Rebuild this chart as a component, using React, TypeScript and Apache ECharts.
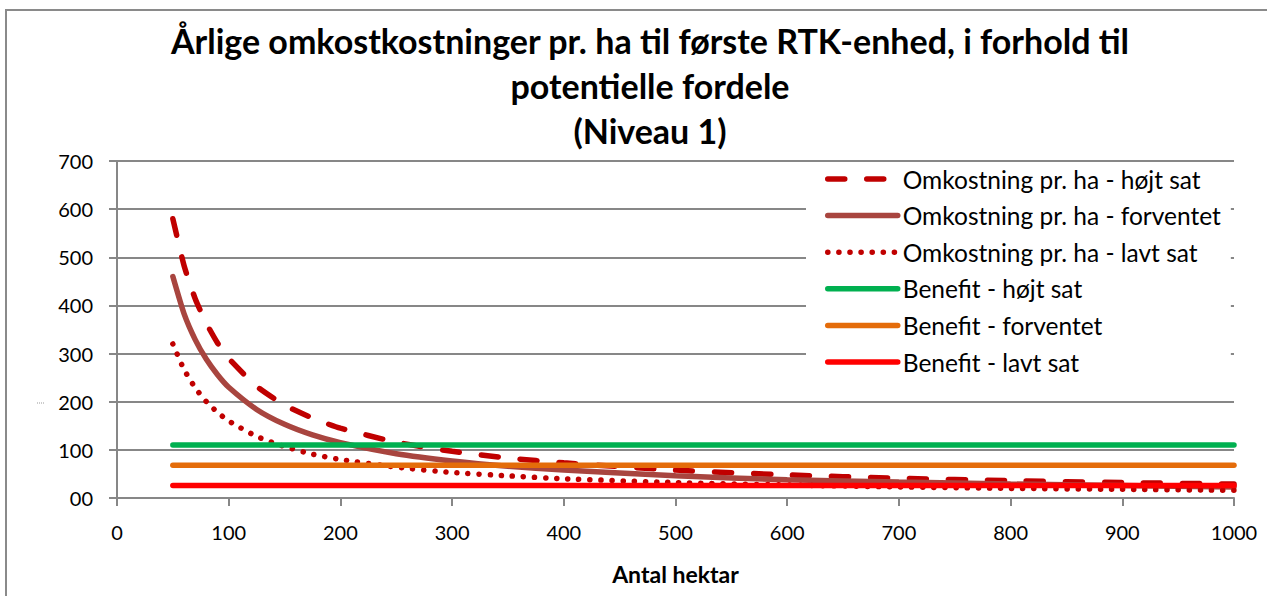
import React, { useEffect, useRef } from "react";
import * as echarts from "echarts";

const titleText = "Årlige omkostkostninger pr. ha til første RTK-enhed, i forhold til\npotentielle fordele\n(Niveau 1)";
const xAxisName = "Antal hektar";

const seriesNames = [
  "Omkostning pr. ha - højt sat",
  "Omkostning pr. ha - forventet",
  "Omkostning pr. ha - lavt sat",
  "Benefit - højt sat",
  "Benefit - forventet",
  "Benefit - lavt sat",
];

const hektar = [50, 60, 70, 80, 90, 100, 125, 150, 175, 200, 250, 300, 350, 400, 500, 600, 700, 800, 900, 1000];
const omkHoej = [580, 483, 414, 363, 322, 290, 232, 193, 166, 145, 116, 97, 83, 73, 58, 48, 41, 36, 32, 29];
const omkForventet = [460, 383, 329, 288, 256, 230, 184, 153, 131, 115, 92, 77, 66, 58, 46, 38, 33, 29, 26, 23];
const omkLav = [320, 267, 229, 200, 178, 160, 128, 107, 91, 80, 64, 53, 46, 40, 32, 27, 23, 20, 18, 16];

const benefitHektar = [50, 1000];
const benefitHoej = [110, 110];
const benefitForventet = [68, 68];
const benefitLav = [26, 26];

const yTicks = ["00", "100", "200", "300", "400", "500", "600", "700"];

const FONT = "Lato, 'Open Sans', sans-serif";

const pairs = (xs: number[], ys: number[]) => xs.map((x, i) => [x, ys[i]]);

export default function App() {
  const ref = useRef<HTMLDivElement>(null);
  useEffect(() => {
    document.body.style.margin = "0";
    const chart = echarts.init(ref.current!, null, { renderer: "svg" });
    const gray = "#878787";
    const lineBase = { type: "line", showSymbol: false, symbol: "none" };
    chart.setOption({
      animation: false,
      backgroundColor: "#ffffff",
      title: {
        text: titleText,
        left: 645,
        top: 13,
        textAlign: "center",
        textStyle: {
          fontFamily: FONT,
          fontWeight: "bold",
          fontSize: 34,
          lineHeight: 45,
          color: "#000",
        },
      },
      graphic: [
        {
          type: "rect",
          shape: { x: 6, y: 10, width: 1400, height: 800 },
          style: { fill: "none", stroke: "#8a8a8a", lineWidth: 2 },
          z: 100,
        },
        {
          type: "line",
          shape: { x1: 37, y1: 403, x2: 45, y2: 403 },
          style: { stroke: "#999", lineWidth: 1, lineDash: [1, 1] },
        },
      ],
      legend: {
        orient: "vertical",
        left: 806,
        top: 163,
        padding: [3, 10, 10, 19],
        backgroundColor: "#ffffff",
        itemWidth: 70,
        itemHeight: 14,
        itemGap: 10.6,
        lineStyle: { width: 5.5 },
        itemStyle: { opacity: 0 },
        textStyle: { fontFamily: FONT, fontSize: 24.5, lineHeight: 26, color: "#000" },
        data: seriesNames,
      },
      grid: { left: 117, right: 33, top: 161, bottom: 98 },
      xAxis: {
        type: "value",
        min: 0,
        max: 1000,
        interval: 100,
        name: xAxisName,
        nameLocation: "middle",
        nameGap: 64,
        nameTextStyle: { fontFamily: FONT, fontWeight: "bold", fontSize: 23, color: "#000" },
        axisLine: { show: true, onZero: false, lineStyle: { color: gray, width: 2 } },
        axisTick: { show: true, inside: false, length: 8, lineStyle: { color: gray, width: 2 } },
        axisLabel: {
          margin: 24,
          fontFamily: FONT,
          fontSize: 20,
          color: "#000",
          formatter: (v: number) => String(v),
        },
        splitLine: { show: false },
      },
      yAxis: {
        type: "value",
        min: 0,
        max: 700,
        interval: 100,
        axisLine: { show: true, lineStyle: { color: gray, width: 2 } },
        axisTick: { show: true, inside: false, length: 8, lineStyle: { color: gray, width: 2 } },
        axisLabel: {
          margin: 24,
          fontFamily: FONT,
          fontSize: 20,
          color: "#000",
          formatter: (v: number) => yTicks[Math.round(v / 100)],
        },
        splitLine: { show: true, lineStyle: { color: gray, width: 2 } },
      },
      series: [
        {
          ...lineBase,
          name: seriesNames[0],
          smooth: 0.2,
          data: pairs(hektar, omkHoej),
          lineStyle: { color: "#C00000", width: 5.5, type: [17, 22], cap: "round" },
          itemStyle: { color: "#C00000" },
        },
        {
          ...lineBase,
          name: seriesNames[1],
          smooth: 0.2,
          data: pairs(hektar, omkForventet),
          lineStyle: { color: "#A8453F", width: 5.5, cap: "round" },
          itemStyle: { color: "#A8453F" },
        },
        {
          ...lineBase,
          name: seriesNames[2],
          smooth: 0.2,
          data: pairs(hektar, omkLav),
          lineStyle: { color: "#C00000", width: 5.5, type: [0.1, 11], cap: "round" },
          itemStyle: { color: "#C00000" },
        },
        {
          ...lineBase,
          name: seriesNames[3],
          data: pairs(benefitHektar, benefitHoej),
          lineStyle: { color: "#00B050", width: 5.5, cap: "round" },
          itemStyle: { color: "#00B050" },
        },
        {
          ...lineBase,
          name: seriesNames[4],
          data: pairs(benefitHektar, benefitForventet),
          lineStyle: { color: "#E46C0A", width: 5.5, cap: "round" },
          itemStyle: { color: "#E46C0A" },
        },
        {
          ...lineBase,
          name: seriesNames[5],
          data: pairs(benefitHektar, benefitLav),
          lineStyle: { color: "#FF0000", width: 5.5, cap: "round" },
          itemStyle: { color: "#FF0000" },
        },
      ],
    });
    return () => chart.dispose();
  }, []);
  return <div ref={ref} style={{ width: 1267, height: 596 }} />;
}
